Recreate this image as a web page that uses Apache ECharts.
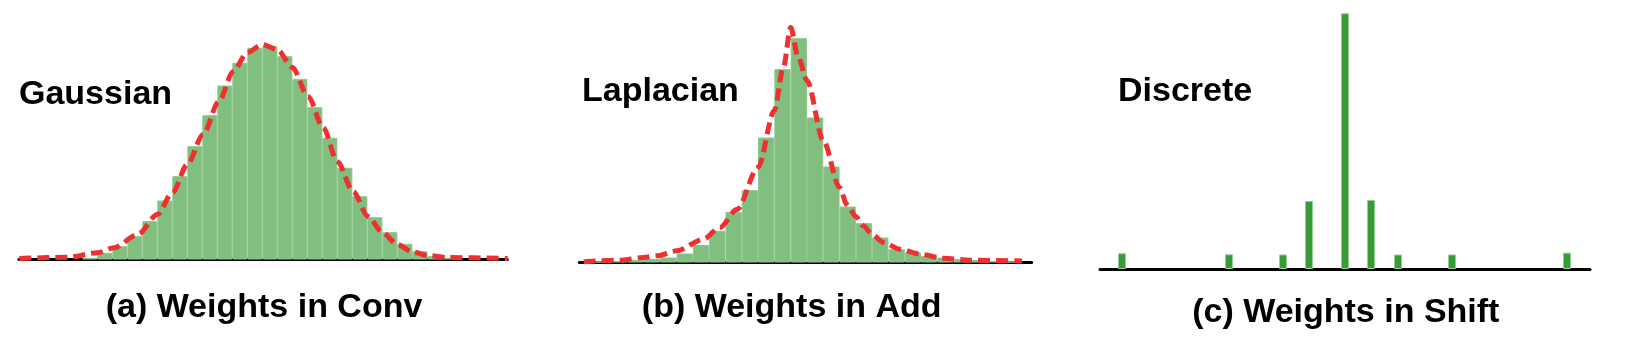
<!DOCTYPE html>
<html>
<head>
<meta charset="utf-8">
<script src="https://cdn.jsdelivr.net/npm/echarts@6/dist/echarts.min.js"></script>
<style>
  html, body { margin: 0; padding: 0; background: #fff; }
  #chart { width: 1627px; height: 350px; }
</style>
</head>
<body>
<div id="chart"></div>
<script>
// (a) conv weights: histogram bins of width 1, first bin starts at convBinStart
const convBinStart = -12;
const convCounts = [1.7, 6.7, 13.3, 23.3, 38.3, 59, 83.3, 113.3, 144.3, 174, 196.7, 211.7,
  213.3, 203.3, 180.7, 152.3, 121.7, 91.7, 63.3, 42.3, 27.3, 15.7, 8.3, 3.3, 1.7];
// fitted gaussian
const convCurveX = [-16.2, -12.9, -11, -9.9, -8.3, -7, -6, -5, -3.95, -2.9, -1.95, -1, 0,
  1, 2, 3.05, 4.05, 5, 6.05, 7.05, 8, 9, 10, 11, 12.35, 16.35];
const convCurveY = [1, 2.3, 6.7, 11.7, 25, 45, 66.7, 95, 125, 158, 188, 207, 215,
  210, 192, 163, 132, 98, 68, 43, 27, 15, 7.7, 4, 2, 1];

// (b) add weights
const addBinStart = -12;
const addCounts = [1, 1.5, 2.5, 3.5, 5, 9, 17.5, 31.7, 50.5, 72.3, 125, 193.3, 224.3,
  145, 96, 56, 39.3, 25, 13.3, 10, 6.7, 5, 3.5, 2.5, 1.5, 1];
const addCurveX = [-12.7, -10.5, -9.05, -8.2, -7, -5.35, -4.35, -3.3, -2, -1, -0.45, 0, 0.45,
  1, 2, 3, 3.45, 4, 4.45, 5, 5.7, 6.7, 7.95, 9.35, 11, 14.2];
const addCurveY = [0.8, 2.3, 5, 6.7, 11.7, 23.3, 35, 53, 95, 152, 195, 235, 206,
  182, 122, 75, 58, 46, 36.7, 28, 20, 13.3, 8.3, 4.3, 2.3, 1.5];

// (c) shift weights: discrete levels
const shiftLevels = [-22.3, -11.6, -6.2, -3.6, 0, 2.6, 5.3, 10.7, 22.2];
const shiftCounts = [15.7, 14.7, 14.5, 68, 255.7, 69, 14.5, 14.5, 16.3];

const titles = ['Gaussian', 'Laplacian', 'Discrete'];
const captions = ['(a) Weights in Conv', '(b) Weights in Add', '(c) Weights in Shift'];

const histGreen = '#80bf7f';
const seamGreen = '#8cc68b';
const shiftGreen = '#389b38';
const red = '#ee3030';
const font = '"Liberation Sans", Arial, sans-serif';

const hist = (start, counts) => counts.map((v, i) => [start + i + 0.5, v]);
const pairs = (xs, ys) => xs.map((x, i) => [x, ys[i]]);

const axisX = (idx, min, max) => ({
  type: 'value', gridIndex: idx, min: min, max: max,
  axisLine: { show: true, lineStyle: { color: '#000', width: 3 } },
  axisTick: { show: false }, axisLabel: { show: false }, splitLine: { show: false }
});
const axisY = (idx, max) => ({
  type: 'value', gridIndex: idx, min: 0, max: max, show: false, splitLine: { show: false }
});

const curve = (idx, data) => ({
  type: 'line', xAxisIndex: idx, yAxisIndex: idx, data: data,
  smooth: 0.3, smoothMonotone: 'x', symbol: 'none', z: 5,
  lineStyle: { color: red, width: 5, type: [12, 6] }
});

const label = (text, x, y, align) => ({
  type: 'text', x: x, y: y,
  style: {
    text: text, fill: '#000', font: 'bold 34px ' + font,
    textAlign: align, textVerticalAlign: 'middle', align: align, verticalAlign: 'middle'
  }
});

const chart = echarts.init(document.getElementById('chart'));
chart.setOption({
  animation: false,
  grid: [
    { left: 18.9, top: 29.5, width: 488.4, height: 230 },
    { left: 579.3, top: 12.5, width: 452.4, height: 250 },
    { left: 1100, top: 9, width: 490, height: 260 }
  ],
  xAxis: [axisX(0, -16.23, 16.33), axisX(1, -12.97, 14.79), axisX(2, -24.5, 24.5)],
  yAxis: [axisY(0, 230), axisY(1, 250), axisY(2, 260)],
  series: [
    {
      type: 'bar', xAxisIndex: 0, yAxisIndex: 0, barWidth: '100%',
      data: hist(convBinStart, convCounts),
      itemStyle: { color: histGreen, borderColor: seamGreen, borderWidth: 1 }
    },
    curve(0, pairs(convCurveX, convCurveY)),
    {
      type: 'bar', xAxisIndex: 1, yAxisIndex: 1, barWidth: '100%',
      data: hist(addBinStart, addCounts),
      itemStyle: { color: histGreen, borderColor: seamGreen, borderWidth: 1 }
    },
    curve(1, pairs(addCurveX, addCurveY)),
    {
      type: 'bar', xAxisIndex: 2, yAxisIndex: 2, barWidth: 8,
      data: pairs(shiftLevels, shiftCounts),
      itemStyle: { color: shiftGreen, borderColor: '#92cd92', borderWidth: 1 }
    }
  ],
  graphic: [
    label(titles[0], 19, 94.5, 'left'),
    label(titles[1], 582, 92, 'left'),
    label(titles[2], 1118, 92, 'left'),
    label(captions[0], 264, 307.5, 'center'),
    label(captions[1], 791.7, 307.5, 'center'),
    label(captions[2], 1345.8, 312.5, 'center')
  ]
});
</script>
</body>
</html>
